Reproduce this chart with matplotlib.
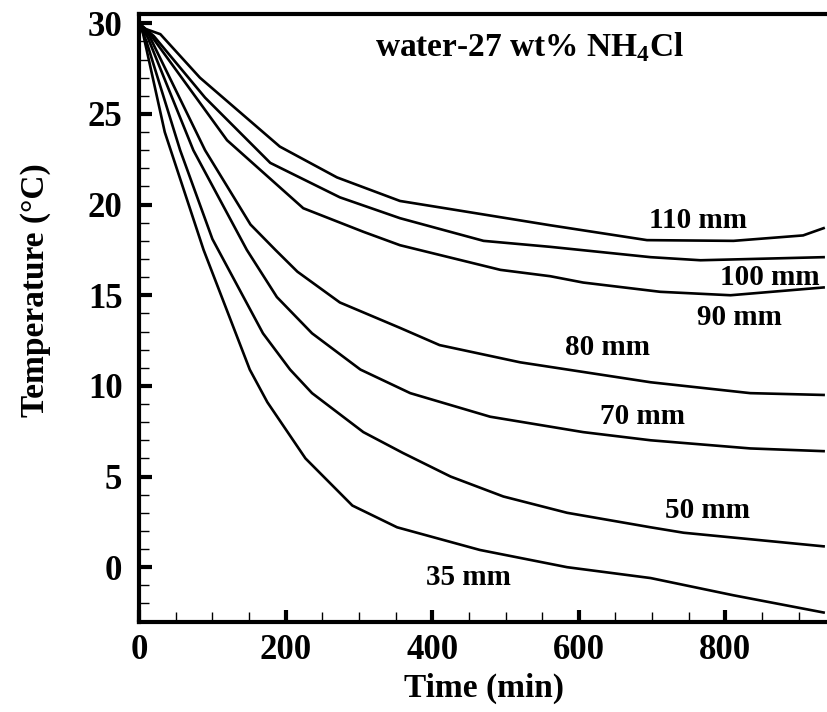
import matplotlib
matplotlib.use('Agg')
import matplotlib.pyplot as plt
from matplotlib.ticker import MultipleLocator

plt.rcParams['font.family'] = ['Liberation Serif', 'DejaVu Serif']
plt.rcParams['font.weight'] = 'bold'

# cooling curves at different heights (time in min, temperature in C)
t_35 = [0, 5, 35, 88, 151, 175, 227, 291, 352, 465, 584, 698, 811, 934]
T_35 = [30.0, 29.5, 24.0, 17.5, 10.9, 9.1, 6.0, 3.4, 2.2, 0.95, 0.0, -0.6, -1.55, -2.5]

t_50 = [0, 10, 56, 100, 169, 206, 236, 306, 360, 425, 497, 584, 698, 743, 934]
T_50 = [30.0, 29.0, 23.0, 18.1, 12.9, 10.9, 9.6, 7.45, 6.3, 5.0, 3.9, 3.0, 2.2, 1.9, 1.15]

t_70 = [0, 12, 74, 147, 188, 236, 302, 370, 479, 606, 698, 834, 934]
T_70 = [30.0, 29.2, 23.0, 17.5, 14.9, 12.9, 10.9, 9.6, 8.3, 7.45, 7.0, 6.55, 6.4]

t_80 = [0, 14, 90, 152, 186, 216, 274, 356, 410, 520, 698, 834, 934]
T_80 = [30.0, 29.3, 23.0, 18.9, 17.5, 16.3, 14.6, 13.2, 12.25, 11.3, 10.2, 9.6, 9.5]

t_90 = [0, 15, 120, 224, 306, 356, 493, 561, 606, 711, 807, 934]
T_90 = [30.0, 29.4, 23.55, 19.8, 18.5, 17.76, 16.4, 16.05, 15.7, 15.19, 15.0, 15.43]

t_100 = [0, 20, 90, 179, 274, 356, 470, 561, 698, 766, 934]
T_100 = [30.0, 29.3, 25.9, 22.3, 20.4, 19.25, 18.0, 17.67, 17.1, 16.93, 17.1]

t_110 = [0, 8, 29, 83, 192, 270, 356, 425, 561, 693, 811, 906, 934]
T_110 = [30.0, 29.7, 29.4, 27.0, 23.2, 21.5, 20.2, 19.75, 18.86, 18.04, 18.0, 18.3, 18.7]

curves = [(t_35, T_35), (t_50, T_50), (t_70, T_70), (t_80, T_80),
          (t_90, T_90), (t_100, T_100), (t_110, T_110)]

# curve labels: text, x, y
labels = ['35 mm', '50 mm', '70 mm', '80 mm', '90 mm', '100 mm', '110 mm']
label_x = [449, 775, 687, 639, 819, 861, 763]
label_y = [-0.55, 3.15, 8.3, 12.1, 13.8, 16.0, 19.1]

fig = plt.figure(figsize=(8.28, 7.12), dpi=100)
ax = fig.add_axes([0.168, 0.127, 0.832, 0.853])

for t, T in curves:
    ax.plot(t, T, color='black', lw=1.9)

for txt, x, y in zip(labels, label_x, label_y):
    ax.text(x, y, txt, fontsize=21, fontweight='bold', ha='center', va='center')

ax.text(533, 28.7, r'water-27 wt% NH$_\mathregular{4}$Cl', fontsize=24,
        fontweight='bold', ha='center', va='center')

ax.set_xlim(0, 940)
ax.set_ylim(-3, 30.5)
ax.xaxis.set_major_locator(MultipleLocator(200))
ax.xaxis.set_minor_locator(MultipleLocator(50))
ax.yaxis.set_major_locator(MultipleLocator(5))
ax.yaxis.set_minor_locator(MultipleLocator(1))

ax.spines['right'].set_visible(False)
for side in ['left', 'bottom', 'top']:
    ax.spines[side].set_linewidth(3.0)

ax.tick_params(which='major', direction='in', length=9, width=3.0,
               labelsize=25, top=False, right=False, pad=9)
ax.tick_params(axis='y', which='major', pad=12)
ax.tick_params(which='minor', direction='in', length=7, width=1.0,
               top=False, right=False)

ax.set_xlabel('Time (min)', fontsize=24, fontweight='bold', labelpad=4)
ax.set_ylabel('Temperature (\u00b0C)', fontsize=24, fontweight='bold')
ax.yaxis.set_label_coords(-0.128, 0.546)

plt.savefig('out.png', dpi=100)
plt.close()
